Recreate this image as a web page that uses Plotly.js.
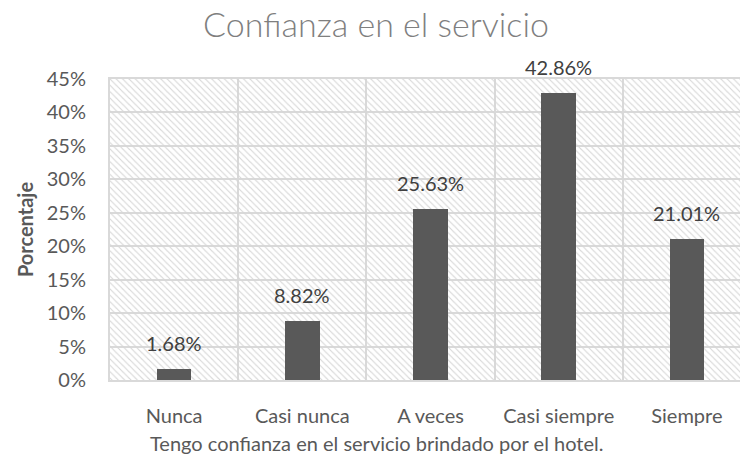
<!DOCTYPE html>
<html><head><meta charset="utf-8">
<script src="https://cdn.plot.ly/plotly-3.0.1.min.js"></script>
<style>html,body{margin:0;padding:0;overflow:hidden;background:#fff;}</style>
</head><body>
<div id="chart" style="width:752px;height:460px;"></div>
<script>
const categories = ["Nunca", "Casi nunca", "A veces", "Casi siempre", "Siempre"];
const porcentajes = [1.68, 8.82, 25.63, 42.86, 21.01];
const yMax = 45;
const yTickVals = [0, 5, 10, 15, 20, 25, 30, 35, 40, 45];
const yTickText = ["0%", "5%", "10%", "15%", "20%", "25%", "30%", "35%", "40%", "45%"];

const FONT = "Lato, 'Open Sans', sans-serif";

const background = {
  type: "bar", x: categories, y: categories.map(() => yMax), width: 1,
  marker: { color: "rgba(0,0,0,0)", line: { width: 0 },
    pattern: { shape: "\\", fgcolor: "#d6d6d6", bgcolor: "rgba(0,0,0,0)", size: 4.5, solidity: 0.25 } },
  hoverinfo: "skip", showlegend: false
};
const bars = {
  type: "bar", x: categories, y: porcentajes, width: 0.27,
  marker: { color: "#595959", line: { width: 0 } },
  hoverinfo: "skip", showlegend: false
};

const labelAnnotations = categories.map((c, i) => ({
  x: c, y: porcentajes[i], xref: "x", yref: "y",
  text: porcentajes[i].toFixed(2) + "%", showarrow: false,
  xanchor: "center", yanchor: "bottom", yshift: 12,
  font: { family: FONT, size: 20, color: "#404040" }
}));

const layout = {
  width: 752, height: 460,
  margin: { l: 110, r: 1, t: 79, b: 80 },
  paper_bgcolor: "#ffffff", plot_bgcolor: "#ffffff",
  barmode: "overlay", bargap: 0,
  font: { family: FONT, color: "#595959" },
  title: { text: "Confianza en el servicio", x: 0.5, xref: "container", y: 0.945, yref: "container", yanchor: "middle",
           font: { family: FONT, size: 34, color: "#7f7f7f", weight: 300 } },
  xaxis: {
    type: "category", tickson: "boundaries", showgrid: true, gridcolor: "#d9d9d9", gridwidth: 2,
    showline: true, linecolor: "#d9d9d9", linewidth: 2, mirror: true,
    ticks: "", ticklabelstandoff: 17, tickfont: { family: FONT, size: 20, color: "#595959" },
    fixedrange: true
  },
  yaxis: {
    range: [0, yMax], tickvals: yTickVals, ticktext: yTickText,
    showgrid: true, gridcolor: "#d9d9d9", gridwidth: 2, zeroline: false,
    showline: true, linecolor: "#d9d9d9", linewidth: 2, mirror: true,
    ticks: "", ticklabelstandoff: 18, tickfont: { family: FONT, size: 20, color: "#595959" },
    title: { text: "<b>Porcentaje</b>", standoff: 8, font: { family: FONT, size: 20, color: "#595959" } },
    fixedrange: true
  },
  annotations: labelAnnotations.concat([{
    text: "Tengo confianza en el servicio brindado por el hotel.",
    xref: "paper", yref: "paper", x: (376 - 110) / (751 - 110), y: -0.21, xanchor: "center", yanchor: "middle",
    showarrow: false, font: { family: FONT, size: 20, color: "#595959" }
  }])
};

Plotly.newPlot("chart", [background, bars], layout, { displayModeBar: false, staticPlot: true });
</script>
</body></html>
